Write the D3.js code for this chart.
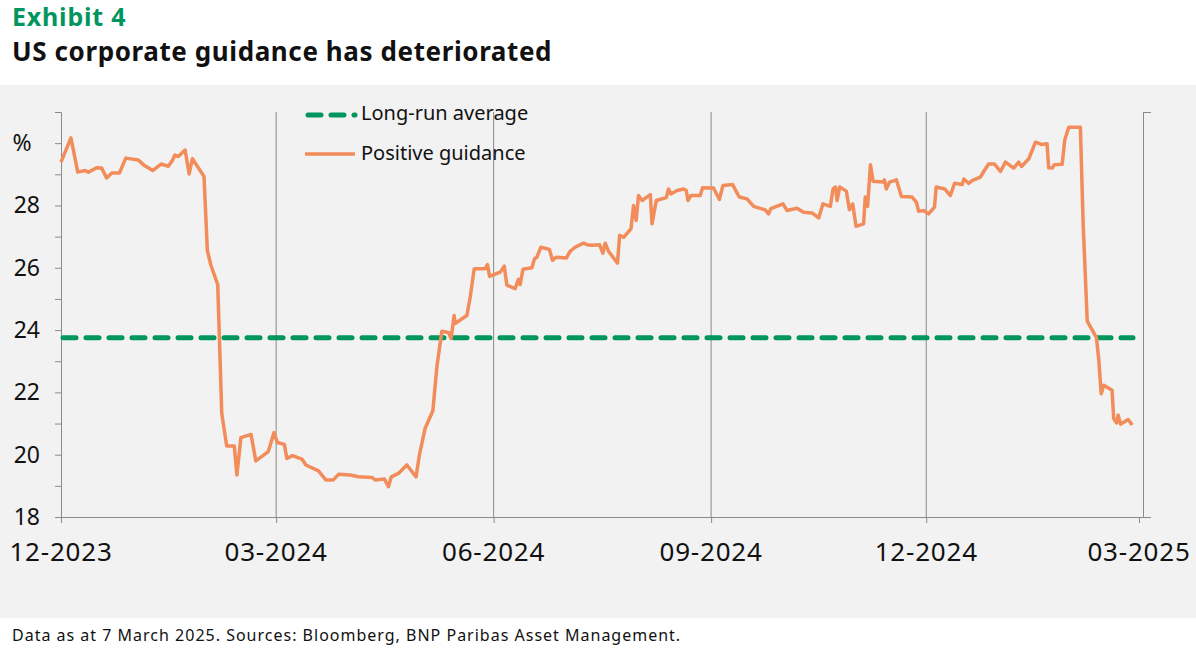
<!DOCTYPE html>
<html>
<head>
<meta charset="utf-8">
<script src="https://cdn.jsdelivr.net/npm/d3@7"></script>
<style>
  body { margin: 0; background: #fff; }
  text { font-family: "Noto Sans", "DejaVu Sans", sans-serif; }
</style>
</head>
<body>
<div id="chart"></div>
<script>
// days since 1 Dec 2023, and % of companies issuing positive guidance
var dayOffsets = [0, 4.2, 7.1, 10.2, 11.6, 15.1, 17.2, 19.3, 21.5, 24.7, 27.4, 32.7, 35.3, 38.8, 42.3, 45.4, 47.1, 48.2, 49.6, 52.5, 54.2, 55.6, 60.5, 61.9, 63.4, 66.3, 68.0, 70.1, 73.3, 74.4, 76.1, 80.4, 82.4, 87.7, 90.1, 91.5, 94.5, 95.5, 97.9, 101.9, 103.6, 108.9, 112.0, 115.2, 117.4, 122.3, 125.8, 131.5, 132.9, 136.8, 138.5, 139.7, 142.7, 146.3, 150.2, 151.6, 154.0, 157.3, 159.0, 161.1, 163.9, 165.0, 166.3,
  166.7, 171.7, 173.1, 174.8, 179.4, 180.4, 181.3, 185.8, 187.5, 188.6, 192.1, 193.5, 194.2, 195.4, 199.2, 200.3, 201.3, 203.0, 206.6, 207.9, 209.5, 213.7, 215.4, 217.5, 221.0, 222.5, 224.6, 227.8, 229.2, 230.2, 231.6, 235.4, 236.3, 238.0, 241.1, 242.2, 243.3, 244.3, 245.8, 249.3, 250.0, 251.8, 256.0, 257.0, 258.0, 260.6, 263.4, 264.5, 265.2, 266.5, 270.4, 271.4, 276.0, 278.5, 280.0, 284.1, 286.9, 290.2, 293.0, 297.9, 299.3, 300.3, 305.4, 307.1, 311.3, 314.1, 317.7, 320.5, 322.3,
  325.4, 326.6, 327.6, 328.3, 329.4, 332.2, 333.5, 334.9, 336.3, 339.5, 340.2, 341.2, 342.4, 343.5, 347.7, 348.3, 349.1, 350.5, 353.4, 355.5, 360.0, 361.8, 362.8, 364.9, 367.0, 369.5, 370.2, 373.8, 376.2, 378.0, 381.2, 381.9, 384.0, 385.4, 388.9, 390.3, 392.4, 394.9, 397.4, 399.5, 403.0, 405.1, 406.3, 409.4, 412.2, 414.7, 417.1, 417.8, 419.3, 420.2, 423.5, 424.6, 426.3, 431.2, 432.4, 434.1, 438.0, 439.0, 440.0, 441.1, 444.6, 445.3, 446.5, 447.2, 448.2, 451.4, 453.1];
var guidance = [29.39, 30.17, 29.07, 29.12, 29.07, 29.21, 29.2, 28.88, 29.04, 29.04, 29.52, 29.46, 29.28, 29.12, 29.33, 29.26, 29.44, 29.62, 29.57, 29.78, 29.01, 29.5, 28.93, 26.56, 26.08, 25.46, 21.32, 20.28, 20.28, 19.35, 20.55, 20.65, 19.8, 20.1, 20.71, 20.39, 20.33, 19.88, 19.97, 19.86, 19.67, 19.48, 19.19, 19.19, 19.37, 19.35, 19.29, 19.27, 19.19, 19.22, 18.97, 19.29, 19.40, 19.67, 19.29, 19.99, 20.84, 21.41, 22.82, 23.96, 23.92, 23.73, 24.47,
  24.21, 24.47, 25.06, 25.97, 25.97, 26.1, 25.72, 25.86, 26.05, 25.44, 25.33, 25.63, 25.46, 25.95, 26.0, 26.29, 26.34, 26.66, 26.59, 26.24, 26.34, 26.31, 26.53, 26.66, 26.79, 26.74, 26.72, 26.74, 26.47, 26.79, 26.53, 26.15, 27.04, 26.98, 27.25, 28.0, 27.52, 28.32, 28.16, 28.35, 27.41, 28.16, 28.25, 28.53, 28.37, 28.48, 28.53, 28.48, 28.16, 28.32, 28.32, 28.57, 28.56, 28.19, 28.64, 28.67, 28.27, 28.21, 27.97, 27.86, 27.73, 27.9, 28.05, 27.84, 27.91, 27.78, 27.76, 27.6, 28.05,
  27.97, 28.53, 28.59, 28.16, 28.59, 28.46, 27.86, 28.05, 27.33, 27.41, 28.27, 27.97, 29.31, 28.78, 28.75, 28.82, 28.53, 28.75, 28.82, 28.29, 28.27, 28.11, 27.81, 27.84, 27.73, 27.95, 28.59, 28.53, 28.32, 28.71, 28.67, 28.85, 28.71, 28.8, 28.91, 29.09, 29.33, 29.33, 29.09, 29.39, 29.2, 29.39, 29.25, 29.5, 30.03, 29.96, 29.98, 29.21, 29.2, 29.31, 29.32, 30.11, 30.51, 30.51, 27.36, 24.29, 23.76, 23.03, 21.96, 22.23, 22.07, 21.16, 21.02, 21.27, 20.98, 21.13, 20.95];
var longRunAverage = 23.75;
var yTickLabels = [18, 20, 22, 24, 26, 28];
var xTickLabels = ["12-2023", "03-2024", "06-2024", "09-2024", "12-2024", "03-2025"];
var xTickDates = ["2023-12-01", "2024-03-01", "2024-06-01", "2024-09-01", "2024-12-01", "2025-03-01"];

var W = 1196, H = 652;
var startDate = new Date(2023, 11, 1);
var data = dayOffsets.map(function (d, i) {
  return { date: new Date(startDate.getTime() + d * 864e5), value: guidance[i] };
});

var svg = d3.select("#chart").append("svg").attr("width", W).attr("height", H);

svg.append("rect").attr("x", 0).attr("y", 85).attr("width", W).attr("height", 533).attr("fill", "#f2f2f2");

svg.append("text").attr("x", 12).attr("y", 26).attr("fill", "#00965e")
  .style("font-size", "25px").style("font-weight", "bold").style("letter-spacing", "0.8px").text("Exhibit 4");
svg.append("text").attr("x", 12).attr("y", 61).attr("fill", "#111")
  .style("font-size", "26px").style("font-weight", "bold").style("letter-spacing", "0.6px").text("US corporate guidance has deteriorated");
svg.append("text").attr("x", 12).attr("y", 641).attr("fill", "#111")
  .style("font-size", "16px").style("letter-spacing", "1px").text("Data as at 7 March 2025. Sources: Bloomberg, BNP Paribas Asset Management.");

var x = d3.scaleTime().domain([startDate, new Date(2025, 2, 1)]).range([61, 1139]);
var y = d3.scaleLinear().domain([18, 31]).range([517, 112]);
var parse = d3.timeParse("%Y-%m-%d");
var ticks = xTickDates.map(parse);

// vertical gridlines at each quarter
svg.append("g").selectAll("line").data(ticks.slice(1, 5)).enter().append("line")
  .attr("x1", function (d) { return x(d); }).attr("x2", function (d) { return x(d); })
  .attr("y1", 112).attr("y2", 517).attr("stroke", "#8a8a8a").attr("stroke-width", 1);

// left axis
svg.append("g").attr("transform", "translate(61,0)")
  .call(d3.axisLeft(y).tickValues(d3.range(18, 32, 1)).tickSize(6).tickFormat(""))
  .call(function (g) { g.selectAll("line, path").attr("stroke", "#8a8a8a"); });
svg.append("g").selectAll("text").data(yTickLabels).enter().append("text")
  .attr("x", 40).attr("y", function (d) { return y(d) + 8; }).attr("text-anchor", "end")
  .style("font-size", "23px").attr("fill", "#111").text(function (d) { return d; });
svg.append("text").attr("x", 22).attr("y", y(30) + 8).attr("text-anchor", "middle")
  .style("font-size", "23px").attr("fill", "#111").text("%");

// right axis
svg.append("g").attr("transform", "translate(1143,0)")
  .call(d3.axisRight(y).tickValues([18, 31]).tickSize(8).tickSizeOuter(0).tickFormat(""))
  .call(function (g) { g.selectAll("line, path").attr("stroke", "#8a8a8a"); });

// bottom axis
svg.append("g").attr("transform", "translate(0,517)")
  .call(d3.axisBottom(x).tickValues(ticks).tickSize(6).tickSizeOuter(0).tickFormat(""))
  .call(function (g) { g.selectAll("line, path").attr("stroke", "#8a8a8a"); });
svg.append("line").attr("x1", 1139).attr("x2", 1151).attr("y1", 517.5).attr("y2", 517.5).attr("stroke", "#8a8a8a");
svg.append("g").selectAll("text").data(ticks).enter().append("text")
  .attr("x", function (d) { return x(d); }).attr("y", 561).attr("text-anchor", "middle")
  .style("font-size", "26px").style("letter-spacing", "0.8px").attr("fill", "#111").text(function (d, i) { return xTickLabels[i]; });

// long-run average
svg.append("line").attr("x1", 63).attr("x2", 1133)
  .attr("y1", y(longRunAverage)).attr("y2", y(longRunAverage))
  .attr("stroke", "#00965e").attr("stroke-width", 5).attr("stroke-linecap", "round")
  .attr("stroke-dasharray", "13,10");

// positive guidance
svg.append("path").datum(data)
  .attr("fill", "none").attr("stroke", "#f28c5a").attr("stroke-width", 3.5).attr("stroke-linejoin", "round")
  .attr("d", d3.line().x(function (d) { return x(d.date); }).y(function (d) { return y(d.value); }));

// legend
svg.append("line").attr("x1", 308).attr("x2", 355).attr("y1", 115).attr("y2", 115)
  .attr("stroke", "#00965e").attr("stroke-width", 5).attr("stroke-linecap", "round").attr("stroke-dasharray", "13,10");
svg.append("line").attr("x1", 305).attr("x2", 355).attr("y1", 154).attr("y2", 154)
  .attr("stroke", "#f28c5a").attr("stroke-width", 3.5);
svg.append("text").attr("x", 361).attr("y", 120).style("font-size", "20px").attr("fill", "#111").text("Long-run average");
svg.append("text").attr("x", 361).attr("y", 160).style("font-size", "20px").attr("fill", "#111").text("Positive guidance");
</script>
</body>
</html>
